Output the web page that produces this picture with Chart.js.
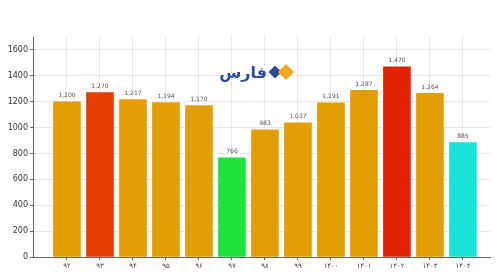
<!DOCTYPE html>
<html>
<head>
<meta charset="utf-8">
<script src="https://cdn.jsdelivr.net/npm/chart.js@4/dist/chart.umd.min.js"></script>
<style>
	html, body { margin: 0; padding: 0; background: #fff; }
	#wrap { width: 500px; height: 275px; }
</style>
</head>
<body>
<div id="wrap"><canvas id="chart" width="500" height="275"></canvas></div>
<script>
(function () {
	'use strict';

	const years = ['۹۲', '۹۳', '۹۴', '۹۵', '۹۶', '۹۷', '۹۸', '۹۹', '۱۴۰۰', '۱۴۰۱', '۱۴۰۲', '۱۴۰۳', '۱۴۰۴'];
	const values = [1200, 1270, 1217, 1194, 1170, 766, 983, 1037, 1191, 1287, 1470, 1264, 885];
	const barColors = ['#e39e06', '#e33f02', '#e39e06', '#e39e06', '#e39e06', '#1ee23c', '#e39e06', '#e39e06', '#e39e06', '#e39e06', '#e32404', '#e39e06', '#1ae4d8'];
	const yTicks = [0, 200, 400, 600, 800, 1000, 1200, 1400, 1600];

	// Value labels above the bars
	const valueLabels = {
		id: 'valueLabels',
		afterDatasetsDraw(chart) {
			const ctx = chart.ctx;
			const meta = chart.getDatasetMeta(0);
			ctx.save();
			ctx.font = '6px "DejaVu Sans"';
			ctx.fillStyle = '#555';
			ctx.textAlign = 'center';
			ctx.textBaseline = 'bottom';
			meta.data.forEach((bar, i) => {
				ctx.fillText(values[i].toLocaleString('en-US'), bar.x, bar.y - 3);
			});
			ctx.restore();
		}
	};

	// Fars logo in the top middle
	const logo = {
		id: 'logo',
		afterDraw(chart) {
			const ctx = chart.ctx;
			ctx.save();
			ctx.font = 'bold 16px "Noto Sans", "DejaVu Sans"';
			ctx.fillStyle = '#2c4f94';
			ctx.textAlign = 'right';
			ctx.textBaseline = 'middle';
			ctx.direction = 'rtl';
			ctx.fillText('فارس', 267, 73);
			const diamond = (cx, cy, r, color) => {
				ctx.beginPath();
				ctx.moveTo(cx, cy - r);
				ctx.lineTo(cx + r, cy);
				ctx.lineTo(cx, cy + r);
				ctx.lineTo(cx - r, cy);
				ctx.closePath();
				ctx.fillStyle = color;
				ctx.fill();
			};
			diamond(275, 72, 6.5, '#2c4f94');
			diamond(286, 72, 8, '#f0a81e');
			ctx.restore();
		}
	};

	new Chart(document.getElementById('chart'), {
		type: 'bar',
		data: {
			datasets: [{
				data: values.map((v, i) => ({ x: i, y: v })),
				backgroundColor: barColors,
				borderWidth: 0,
				barThickness: 27
			}]
		},
		options: {
			responsive: false,
			animation: false,
			layout: { padding: { top: 37, right: 10, left: 0, bottom: 0 } },
			plugins: {
				legend: { display: false },
				tooltip: { enabled: false }
			},
			scales: {
				x: {
					type: 'linear',
					offset: false,
					min: -1.03,
					max: 12.82,
					z: 1,
					afterBuildTicks: scale => {
						scale.ticks = years.map((y, i) => ({ value: i }));
					},
					afterFit: scale => { scale.height = 18; },
					ticks: {
						callback: v => years[v],
						font: { size: 7, family: '"DejaVu Sans"' },
						color: '#444',
						padding: 2,
						maxRotation: 0
					},
					grid: {
						offset: false,
						color: 'rgba(0,0,0,0.09)',
						tickColor: '#666',
						tickLength: 3
					},
					border: { color: '#666', width: 1 }
				},
				y: {
					min: 0,
					max: 1700,
					z: 1,
					afterBuildTicks: scale => {
						scale.ticks = yTicks.map(v => ({ value: v }));
					},
					afterFit: scale => { scale.width = 33; },
					ticks: {
						callback: v => String(v),
						font: { size: 8, family: '"DejaVu Sans"' },
						color: '#333',
						padding: 2
					},
					grid: {
						color: 'rgba(0,0,0,0.09)',
						tickColor: '#666',
						tickLength: 3
					},
					border: { color: '#666', width: 1 }
				}
			}
		},
		plugins: [valueLabels, logo]
	});
})();
</script>
</body>
</html>
